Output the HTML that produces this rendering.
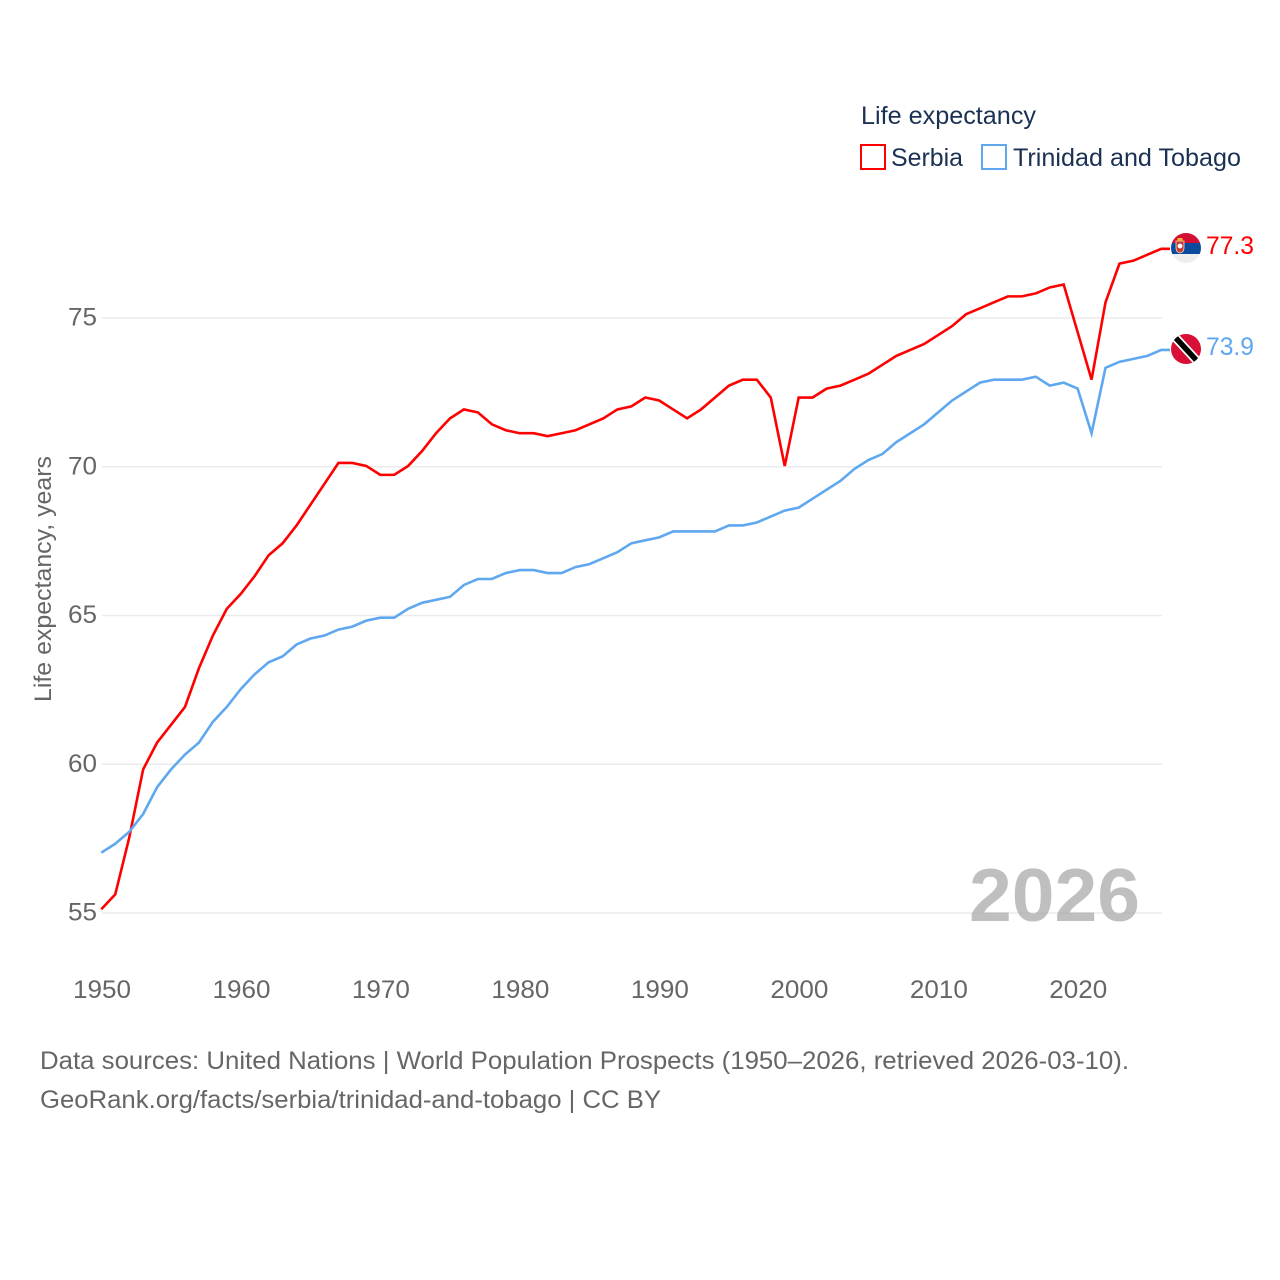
<!DOCTYPE html>
<html lang="en">
<head>
<meta charset="utf-8">
<title>Life expectancy: Serbia and Trinidad and Tobago</title>
<style>
html,body{margin:0;padding:0;background:#fff;}
svg{display:block;font-family:"Liberation Sans",sans-serif;}
</style>
</head>
<body>
<svg id="chart" xmlns="http://www.w3.org/2000/svg" width="1280" height="1280" viewBox="0 0 1280 1280">
  <rect x="0" y="0" width="1280" height="1280" fill="#ffffff"/>
  <g id="grid"></g>
  <g id="yticks"></g>
  <g id="xticks"></g>
  <text x="1140" y="921" text-anchor="end" font-size="75" font-weight="700" fill="#a6a6a6" fill-opacity="0.72" textLength="171" lengthAdjust="spacingAndGlyphs">2026</text>
  <text transform="translate(51,579) rotate(-90)" text-anchor="middle" font-size="24" fill="#666666" textLength="246" lengthAdjust="spacingAndGlyphs">Life expectancy, years</text>
  <g id="series"></g>

  <g>
    <text x="861" y="124" font-size="25" fill="#1a3154" textLength="175" lengthAdjust="spacingAndGlyphs">Life expectancy</text>
    <g>
      <rect x="861" y="145" width="24" height="24" fill="#ffffff" stroke="#ff0000" stroke-width="2"/>
      <text x="891" y="166" font-size="25" fill="#1a3154" textLength="72" lengthAdjust="spacingAndGlyphs">Serbia</text>
    </g>
    <g>
      <rect x="982" y="145" width="24" height="24" fill="#ffffff" stroke="#5fa8f0" stroke-width="2"/>
      <text x="1013" y="166" font-size="25" fill="#1a3154" textLength="228" lengthAdjust="spacingAndGlyphs">Trinidad and Tobago</text>
    </g>
  </g>

  <defs>
    <clipPath id="flagClipA"><circle cx="1186" cy="248" r="15"/></clipPath>
    <clipPath id="flagClipB"><circle cx="1186" cy="349" r="15"/></clipPath>
  </defs>
  <g clip-path="url(#flagClipA)">
    <rect x="1171" y="233" width="30" height="10" fill="#d20f34"/>
    <rect x="1171" y="243" width="30" height="11" fill="#0c4a9e"/>
    <rect x="1171" y="254" width="30" height="9" fill="#eeeeee"/>
    <path d="M1176 241h8v7q0 4-4 5q-4-1-4-5z" fill="#c6363c" stroke="#f4e3b0" stroke-width="0.8"/>
    <rect x="1177.5" y="238" width="5" height="3" fill="#edb92e"/>
    <circle cx="1180" cy="246" r="2.4" fill="#ffffff"/>
  </g>
  <g clip-path="url(#flagClipB)">
    <rect x="1171" y="334" width="30" height="30" fill="#d80f36"/>
    <line x1="1174" y1="336" x2="1198" y2="362" stroke="#ffffff" stroke-width="9"/>
    <line x1="1174" y1="336" x2="1198" y2="362" stroke="#000000" stroke-width="5.5"/>
  </g>
  <text x="1206" y="254" font-size="25" fill="#ff0000" textLength="48" lengthAdjust="spacingAndGlyphs">77.3</text>
  <text x="1206" y="355" font-size="25" fill="#5fa8f0" textLength="48" lengthAdjust="spacingAndGlyphs">73.9</text>

  <text x="40" y="1069" font-size="25" fill="#666666" textLength="1089" lengthAdjust="spacingAndGlyphs">Data sources: United Nations | World Population Prospects (1950–2026, retrieved 2026-03-10).</text>
  <text x="40" y="1108" font-size="25" fill="#666666" textLength="621" lengthAdjust="spacingAndGlyphs">GeoRank.org/facts/serbia/trinidad-and-tobago | CC BY</text>
</svg>
<script>
const startYear = 1950;
const yTickValues = [55, 60, 65, 70, 75];
const xTickValues = [1950, 1960, 1970, 1980, 1990, 2000, 2010, 2020];
const serbiaValues = [
  55.1, 55.6, 57.5, 59.8, 60.7, 61.3, 61.9, 63.2, 64.3, 65.2,
  65.7, 66.3, 67.0, 67.4, 68.0, 68.7, 69.4, 70.1, 70.1, 70.0,
  69.7, 69.7, 70.0, 70.5, 71.1, 71.6, 71.9, 71.8, 71.4, 71.2,
  71.1, 71.1, 71.0, 71.1, 71.2, 71.4, 71.6, 71.9, 72.0, 72.3,
  72.2, 71.9, 71.6, 71.9, 72.3, 72.7, 72.9, 72.9, 72.3, 70.0,
  72.3, 72.3, 72.6, 72.7, 72.9, 73.1, 73.4, 73.7, 73.9, 74.1,
  74.4, 74.7, 75.1, 75.3, 75.5, 75.7, 75.7, 75.8, 76.0, 76.1,
  74.5, 72.9, 75.5, 76.8, 76.9, 77.1, 77.3
];
const trinidadValues = [
  57.0, 57.3, 57.7, 58.3, 59.2, 59.8, 60.3, 60.7, 61.4, 61.9,
  62.5, 63.0, 63.4, 63.6, 64.0, 64.2, 64.3, 64.5, 64.6, 64.8,
  64.9, 64.9, 65.2, 65.4, 65.5, 65.6, 66.0, 66.2, 66.2, 66.4,
  66.5, 66.5, 66.4, 66.4, 66.6, 66.7, 66.9, 67.1, 67.4, 67.5,
  67.6, 67.8, 67.8, 67.8, 67.8, 68.0, 68.0, 68.1, 68.3, 68.5,
  68.6, 68.9, 69.2, 69.5, 69.9, 70.2, 70.4, 70.8, 71.1, 71.4,
  71.8, 72.2, 72.5, 72.8, 72.9, 72.9, 72.9, 73.0, 72.7, 72.8,
  72.6, 71.1, 73.3, 73.5, 73.6, 73.7, 73.9
];

const NS = 'http://www.w3.org/2000/svg';
function xScale(year) { return 102 + (year - 1950) * (1060 / 76); }
function yScale(value) { return 913 - (value - 55) * (595 / 20); }

const gridGroup = document.getElementById('grid');
const yTickGroup = document.getElementById('yticks');
const xTickGroup = document.getElementById('xticks');
const seriesGroup = document.getElementById('series');

yTickValues.forEach(function (v) {
  const line = document.createElementNS(NS, 'line');
  line.setAttribute('x1', 102);
  line.setAttribute('x2', 1162);
  line.setAttribute('y1', yScale(v));
  line.setAttribute('y2', yScale(v));
  line.setAttribute('stroke', '#ebebeb');
  line.setAttribute('stroke-width', '1.5');
  
  
  gridGroup.appendChild(line);

  const label = document.createElementNS(NS, 'text');
  label.setAttribute('x', 97);
  label.setAttribute('y', yScale(v) + 7.5);
  label.setAttribute('text-anchor', 'end');
  label.setAttribute('font-size', '25');
  label.setAttribute('fill', '#666666');
  label.setAttribute('textLength', '29');
  label.setAttribute('lengthAdjust', 'spacingAndGlyphs');
  label.textContent = v;
  
  
  yTickGroup.appendChild(label);
});

xTickValues.forEach(function (yr) {
  const label = document.createElementNS(NS, 'text');
  label.setAttribute('x', xScale(yr));
  label.setAttribute('y', 998);
  label.setAttribute('text-anchor', 'middle');
  label.setAttribute('font-size', '25');
  label.setAttribute('fill', '#666666');
  label.setAttribute('textLength', '58');
  label.setAttribute('lengthAdjust', 'spacingAndGlyphs');
  label.textContent = yr;
  
  
  xTickGroup.appendChild(label);
});

function linePoints(values) {
  const pts = values.map(function (v, i) {
    return (xScale(startYear + i) - 0.7).toFixed(2) + ',' + (yScale(v) - 0.8).toFixed(2);
  });
  const last = values[values.length - 1];
  pts.push((xScale(startYear + values.length - 1) + 8).toFixed(2) + ',' + (yScale(last) - 0.8).toFixed(2));
  return pts.join(' ');
}

const serbiaLine = document.createElementNS(NS, 'polyline');
serbiaLine.setAttribute('points', linePoints(serbiaValues));
serbiaLine.setAttribute('fill', 'none');
serbiaLine.setAttribute('stroke', '#ff0000');
serbiaLine.setAttribute('stroke-width', '2.6');
serbiaLine.setAttribute('stroke-linejoin', 'miter');


seriesGroup.appendChild(serbiaLine);

const trinidadLine = document.createElementNS(NS, 'polyline');
trinidadLine.setAttribute('points', linePoints(trinidadValues));
trinidadLine.setAttribute('fill', 'none');
trinidadLine.setAttribute('stroke', '#5fa8f0');
trinidadLine.setAttribute('stroke-width', '2.6');
trinidadLine.setAttribute('stroke-linejoin', 'miter');


seriesGroup.appendChild(trinidadLine);
</script>
</body>
</html>
